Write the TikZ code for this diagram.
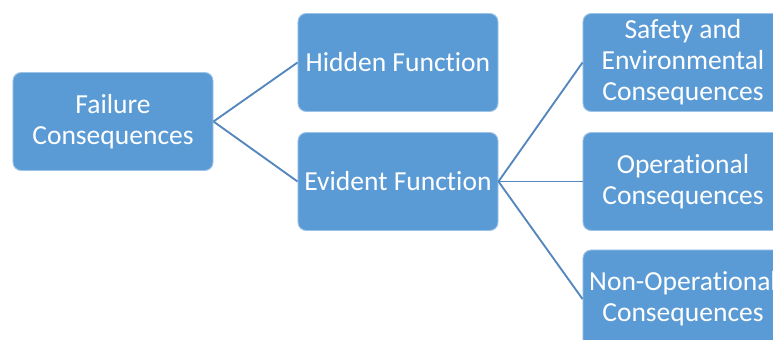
\documentclass[tikz,border=0pt]{standalone}
\usepackage{fontspec}
\setmainfont[Ligatures=NoCommon]{Carlito}
\usetikzlibrary{positioning}
\definecolor{boxblue}{RGB}{91,155,213}
\definecolor{linkblue}{RGB}{84,135,190}

\begin{document}
\begin{tikzpicture}[x=0.03cm, y=-0.03cm,
  box/.style={rectangle, rounded corners=7pt, fill=boxblue, draw=boxblue!60!white, line width=0.8pt,
    minimum width=6cm, minimum height=2.94cm, align=center, text=white,
    font=\fontsize{23.5}{26.5}\selectfont},
  link/.style={draw=linkblue, line width=1.6pt}]
\useasboundingbox (0,0) rectangle (773,340);
\clip (0,0) rectangle (773,340);

\node[box] (failure) at (113,121.5) {Failure\\Consequences};
\node[box] (hidden) at (398,62.5) {Hidden Function};
\node[box] (evident) at (398,181.5) {Evident Function};
\node[box] (safety) at (683,62.5) {Safety and\\Environmental\\Consequences};
\node[box] (operational) at (683,181.5) {Operational\\Consequences};
\node[box] (nonop) at (683,299) {Non-Operational\\Consequences};

\draw[link] (failure.east) -- (hidden.west);
\draw[link] (failure.east) -- (evident.west);
\draw[link] (evident.east) -- (safety.west);
\draw[link] (evident.east) -- (operational.west);
\draw[link] (evident.east) -- (nonop.west);
\end{tikzpicture}
\end{document}
